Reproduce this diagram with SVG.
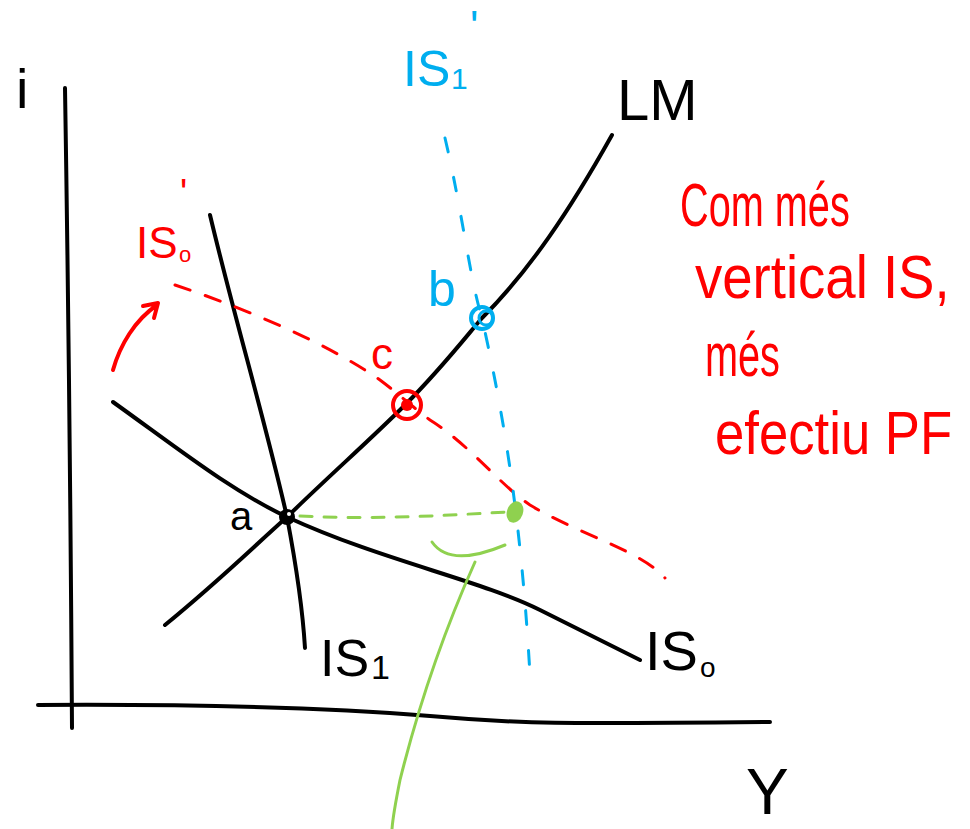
<svg xmlns="http://www.w3.org/2000/svg" width="970" height="829" viewBox="0 0 970 829">
<style>
.blk{fill:none;stroke:#000;stroke-width:4;stroke-linecap:round;stroke-linejoin:round}
.red{fill:none;stroke:#f00;stroke-width:3;stroke-linecap:round;stroke-dasharray:16 16}
.blu{fill:none;stroke:#00aeef;stroke-width:3;stroke-linecap:round;stroke-dasharray:14 26}
.grn{fill:none;stroke:#8fd14f;stroke-width:3;stroke-linecap:round}
.t{font-family:"Liberation Sans",Arial,sans-serif}
.tb{fill:#000}.tr{fill:#f00}.tc{fill:#00aeef}
</style>
<rect width="970" height="829" fill="#fff"/>
<g id="axes">
<path class="blk" d="M65,88 Q70,400 72,728"/>
<path class="blk" d="M38,705 C200,704 330,708 430,716 C520,724 560,724 770,722"/>
<text class="t tb" x="16" y="108" font-size="56">i</text>
<text class="t tb" x="746" y="814" font-size="64">Y</text>
</g>
<g id="connectors">
<path id="LM" class="blk" d="M165,625 C220,580 250,550 287,517 C330,475 370,440 405,405 C440,370 465,338 482,318 C530,270 570,210 612,135"/>
<path id="IS1" class="blk" d="M210,215 C235,320 265,420 287,517 C298,575 303,615 305,648"/>
<path id="IS0" class="blk" d="M113,402 C180,450 230,490 287,517 C380,560 480,580 540,610 C590,635 620,650 640,660"/>
<path id="IS0p" class="red" d="M175,285 C250,310 330,345 380,380 C400,395 410,405 430,420 C470,445 500,485 530,505 C580,535 640,550 665,578"/>
<path id="IS1p" class="blu" d="M445,138 C462,210 470,280 482,318 C500,400 520,500 530,675"/>
<path id="greenDash" class="grn" stroke-dasharray="12 12" d="M300,516 C380,520 450,515 507,512"/>
<path id="greenArc" class="grn" d="M432,542 Q450,568 505,545"/>
<path id="greenLine" class="grn" d="M475,562 C440,640 415,720 400,780 C395,805 393,815 392,829"/>
<path id="arrow" fill="none" stroke="#f00" stroke-width="4" stroke-linecap="round" stroke-linejoin="round" d="M113,370 C120,345 135,320 157,305 M143,306 L158,303 L154,318"/>
</g>
<g id="node-a">
<circle cx="287" cy="517" r="8" fill="#000"/>
<circle cx="289" cy="514" r="2" fill="#fff"/>
<text class="t tb" x="230" y="530" font-size="40">a</text>
</g>
<g id="node-c">
<circle cx="407" cy="405" r="14" fill="none" stroke="#f00" stroke-width="4"/>
<circle cx="407" cy="405" r="6" fill="#f00"/>
<text class="t tr" x="371" y="369" font-size="44">c</text>
</g>
<g id="node-b">
<circle cx="482" cy="318" r="11" fill="none" stroke="#00aeef" stroke-width="4"/>
<circle cx="486" cy="318" r="7" fill="none" stroke="#00aeef" stroke-width="3"/>
<text class="t tc" x="428" y="306" font-size="50">b</text>
</g>
<g id="node-green">
<ellipse cx="515" cy="512" rx="8" ry="11" transform="rotate(20 515 512)" fill="#8fd14f"/>
</g>
<g id="label-LM"><text class="t tb" x="617" y="120" font-size="58">LM</text></g>
<g id="label-IS1"><text class="t tb" x="320" y="676" font-size="52">IS</text><text class="t tb" x="371" y="679" font-size="34">1</text></g>
<g id="label-IS0"><text class="t tb" x="645" y="670" font-size="56">IS</text><text class="t tb" x="700" y="677" font-size="28">o</text></g>
<g id="label-IS0p"><text class="t tr" x="136" y="258" font-size="44">IS</text><text class="t tr" x="179" y="262" font-size="22">o</text><text class="t tr" x="180" y="206" font-size="38">'</text></g>
<g id="label-IS1p"><text class="t tc" x="403" y="86" font-size="50">IS</text><text class="t tc" x="451" y="89" font-size="30">1</text><text class="t tc" x="470" y="42" font-size="44">'</text></g>
<g id="note" class="t tr">
<text transform="translate(680,226) scale(0.64,1)" font-size="62">Com més</text>
<text transform="translate(695,298) scale(0.88,1)" font-size="62">vertical IS,</text>
<text transform="translate(705,376) scale(0.64,1)" font-size="62">més</text>
<text transform="translate(715,454) scale(0.85,1)" font-size="62">efectiu PF</text>
</g>
</svg>
